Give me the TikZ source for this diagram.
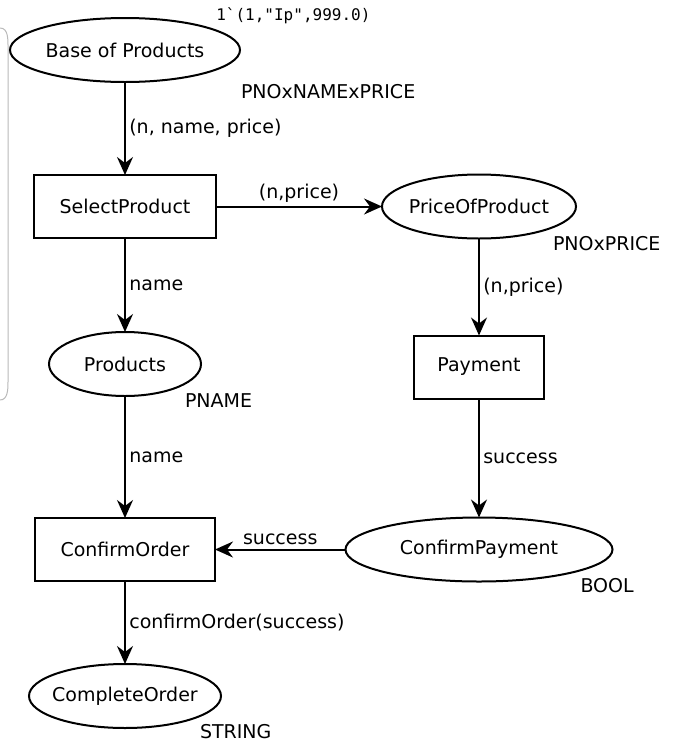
\documentclass[tikz,border=0pt]{standalone}
\usepackage{fontspec}
\setmainfont{DejaVu Sans}
\setmonofont{DejaVu Sans Mono}
\usetikzlibrary{arrows.meta,positioning,calc,shapes.geometric}

\begin{document}
\begin{tikzpicture}[x=1pt, y=-1pt, line width=2pt, black,
    font=\fontsize{19}{22}\selectfont,
    place/.style={ellipse, draw=black, minimum height=64pt, inner sep=0pt, outer sep=0pt},
    trans/.style={rectangle, draw=black, minimum height=63pt, outer sep=0pt},
    arc/.style={-{Stealth[length=18pt, width=16pt, inset=6pt]}},
    tag/.style={anchor=west, inner sep=0pt}]
    \useasboundingbox (0,0) rectangle (679,745);

    %Places and transitions
    \node (base)         [place, minimum width=230pt] at (125,50)             {Base of Products};
    \node (select)       [trans, minimum width=182pt, below=93pt of base]     {SelectProduct};
    \node (products)     [place, minimum width=152pt, below=94pt of select]   {Products};
    \node (confirmorder) [trans, minimum width=180pt, below=122pt of products] {ConfirmOrder};
    \node (complete)     [place, minimum width=192pt, inner xsep=-8pt, below=83pt of confirmorder] {CompleteOrder};
    \node (price)        [place, minimum width=194pt, inner xsep=-3pt, right=166pt of select]  {PriceOfProduct};
    \node (payment)      [trans, minimum width=130pt, below=97pt of price]    {Payment};
    \node (confirmpay)   [place, minimum width=267pt] at (payment |- confirmorder) {ConfirmPayment};

    % Colour sets and marking (outside nodes)
    \node (basemark)     [tag, font=\ttfamily\fontsize{16}{19}\selectfont] at ($(base.north east)+(9,-12)$) {1`(1,"Ip",999.0)};
    \node (basetype)     [tag] at ($(base.east)+(0,42)$)        {PNOxNAMExPRICE};
    \node (pricetype)    [tag] at ($(price.east)+(-24,37)$)     {PNOxPRICE};
    \node (productstype) [tag] at ($(products.east)+(-17,37)$)  {PNAME};
    \node (paytype)      [tag] at ($(confirmpay.east)+(-33,36)$) {BOOL};
    \node (completetype) [tag] at ($(complete.east)+(-22,36)$)  {STRING};

    %Arcs
    \draw[arc] (base.south)         -- node[right] {(n, name, price)} (select.north);
    \draw[arc] (select.east)        -- node[above] {(n,price)} (price.west);
    \draw[arc] (select.south)       -- node[right] {name} (products.north);
    \draw[arc] (products.south)     -- node[right] {name} (confirmorder.north);
    \draw[arc] (price.south)        -- node[right] {(n,price)} (payment.north);
    \draw[arc] (payment.south)      -- node[right] {success} (confirmpay.north);
    \draw[arc] (confirmpay.west)    -- node[above] {success} (confirmorder.east);
    \draw[arc] (confirmorder.south) -- node[right] {confirmOrder(success)} (complete.north);

    % window edge at the left
    \draw[gray!55, line width=1pt] (0,28) to[out=0, in=90] (8,48) -- (8,382) to[out=-90, in=0] (0,400);
\end{tikzpicture}
\end{document}
